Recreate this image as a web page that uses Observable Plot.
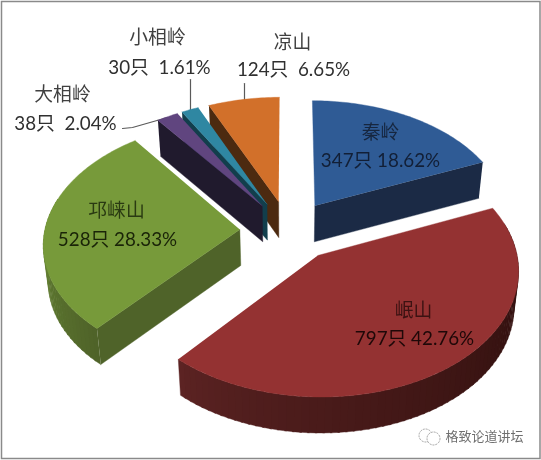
<!DOCTYPE html>
<html><head><meta charset="utf-8">
<script src="https://cdn.jsdelivr.net/npm/d3@7"></script>
<script src="https://cdn.jsdelivr.net/npm/@observablehq/plot@0.6"></script>
<style>html,body{margin:0;padding:0;background:#fff}svg{display:block;filter:blur(0.6px)}</style>
</head><body><div id="chart"></div>
<script>
const names = ["秦岭","岷山","邛崃山","大相岭","小相岭","凉山"];
const counts = [347,797,528,38,30,124];
const percents = [18.62,42.76,28.33,2.04,1.61,6.65];
const gaps = [" "," "," ","  ","  ","  "];
const topColors = ["#2f5b95","#943232","#779a3a","#60457f","#2f87a2","#d2702a"];
const wallColors = ["#1b2a45","#5a2222","#4f6329","#201a2d","#123e4c","#4c2a10"];
const arcColorsNear = ["#1b2a45","#2d0e0c","#4f6329","#201a2d","#123e4c","#4c2a10"];
const arcColorsFar = ["#1b2a45","#5e2424","#6d8d37","#201a2d","#123e4c","#4c2a10"];
const labelColors = ["#121f36","#1e0808","#1a2408","#303030","#303030","#303030"];
const nameColors = ["#16263f","#3c1212","#2a3a12","#404040","#404040","#404040"];
const nameAt = [[380,132],[413,310],[116,210],[62,94],[157,37],[292,42]];
const lineAt = [[380,160],[414,338],[117,239],[65,123],[159,67],[293,69]];
const leaders = [[[122,128],[132,127],[167,117]],[[190,79],[190,109]],[[244,83],[244,100]]];

// projection of the tilted pie
const cx = 288, cy = 230, A = 195, B = 121, p = 0.105, explode = 0.25, depth = 36;
const rad = d => d * Math.PI / 180;
function project(thetaDeg, r, midDeg) {
  const X = r * Math.sin(rad(thetaDeg)) + explode * Math.sin(rad(midDeg));
  const Y = r * Math.cos(rad(thetaDeg)) + explode * Math.cos(rad(midDeg));
  const w = 1 + p * Y;
  return [cx + A * X / w, cy - B * Y / w];
}
const drop = ([x, y]) => [cx + (x - cx) * 0.98, y + depth];

const total = d3.sum(percents);
let acc = 0;
const slices = percents.map((v, i) => {
  const start = acc / total * 360; acc += v;
  const end = acc / total * 360;
  return {i, start, end, mid: (start + end) / 2};
});

const rows = [];
let pid = 0;
const poly = (pts, color) => { const id = pid++; pts.forEach(([x, y]) => rows.push({x, y, id, color})); };
const order = [5, 4, 3, 2, 0, 1];
for (const k of order) {
  const s = slices[k];
  const wallAngle = s.mid < 90 ? s.end : s.mid > 180 ? s.start : null;
  // outer wall, in narrow strips so its shade can change along the rim
  const a0 = Math.max(s.start, 75), a1 = Math.min(s.end, 285);
  if (a1 > a0) {
    const scale = d3.scaleLinear().domain([a1, a0]).range([0, 1]);
    const mix = d3.interpolateRgb(arcColorsFar[k], arcColorsNear[k]);
    for (let t = a0; t < a1; t += 2) {
      const t2 = Math.min(t + 2.5, a1);
      const u = k === 1 ? Math.pow(scale(t), 0.7) : 1 - scale(t);
      const q1 = project(t, 1, s.mid), q2 = project(t2, 1, s.mid);
      poly([q1, q2, drop(q2), drop(q1)], k === 1 ? mix(u) : mix(1 - u));
    }
  }
  // straight wall
  if (wallAngle !== null) {
    const o = project(wallAngle, 1, s.mid), c = project(wallAngle, 0, s.mid);
    poly([o, c, drop(c), drop(o)], wallColors[k]);
  }
  // top face
  const top = [project(s.start, 0, s.mid)];
  for (let t = s.start; t < s.end; t += 1) top.push(project(t, 1, s.mid));
  top.push(project(s.end, 1, s.mid));
  poly(top, topColors[k]);
}

const leaderRows = leaders.flatMap((l, id) => l.map(([x, y]) => ({x, y, id})));
const textRows = names.flatMap((n, i) => [
  {x: nameAt[i][0], y: nameAt[i][1], t: n, c: nameColors[i]},
  {x: lineAt[i][0], y: lineAt[i][1], t: `${counts[i]}只${gaps[i]}${percents[i].toFixed(2)}%`, c: labelColors[i]}
]);

const chart = Plot.plot({
  width: 541, height: 460, margin: 0,
  x: {domain: [0, 541], range: [0, 541], axis: null},
  y: {domain: [0, 460], range: [0, 460], axis: null},
  color: {type: "identity"},
  marks: [
    Plot.frame({stroke: "#8a8a8a", strokeWidth: 1.5, insetLeft: 1, insetTop: 1, insetRight: 1.5, insetBottom: 2}),
    Plot.line(leaderRows, {x: "x", y: "y", z: "id", stroke: "#5a5a5a", strokeWidth: 1.2}),
    Plot.line(rows, {x: "x", y: "y", z: "id", fill: "color", stroke: "color", strokeWidth: 0.4, curve: "linear"}),
    Plot.text(textRows, {x: "x", y: "y", text: "t", fill: "c", fontSize: 18.8, fontFamily: "Lato, 'Noto Sans CJK SC', sans-serif", textAnchor: "middle"}),
    Plot.dot([[425,435],[433,438]], {x: d => d[0], y: d => d[1], r: 6.5, stroke: "#a0a0a0", fill: "#fff", strokeWidth: 1, strokeDasharray: "2 1"}),
    Plot.text(["格致论道讲坛"], {x: 484, y: 436, text: d => d, fontSize: 13, fill: "#6f6f6f", stroke: "#fff", strokeWidth: 2, fontFamily: "'Noto Sans CJK SC', sans-serif", textAnchor: "middle"})
  ]
});
document.getElementById("chart").append(chart);
</script></body></html>
